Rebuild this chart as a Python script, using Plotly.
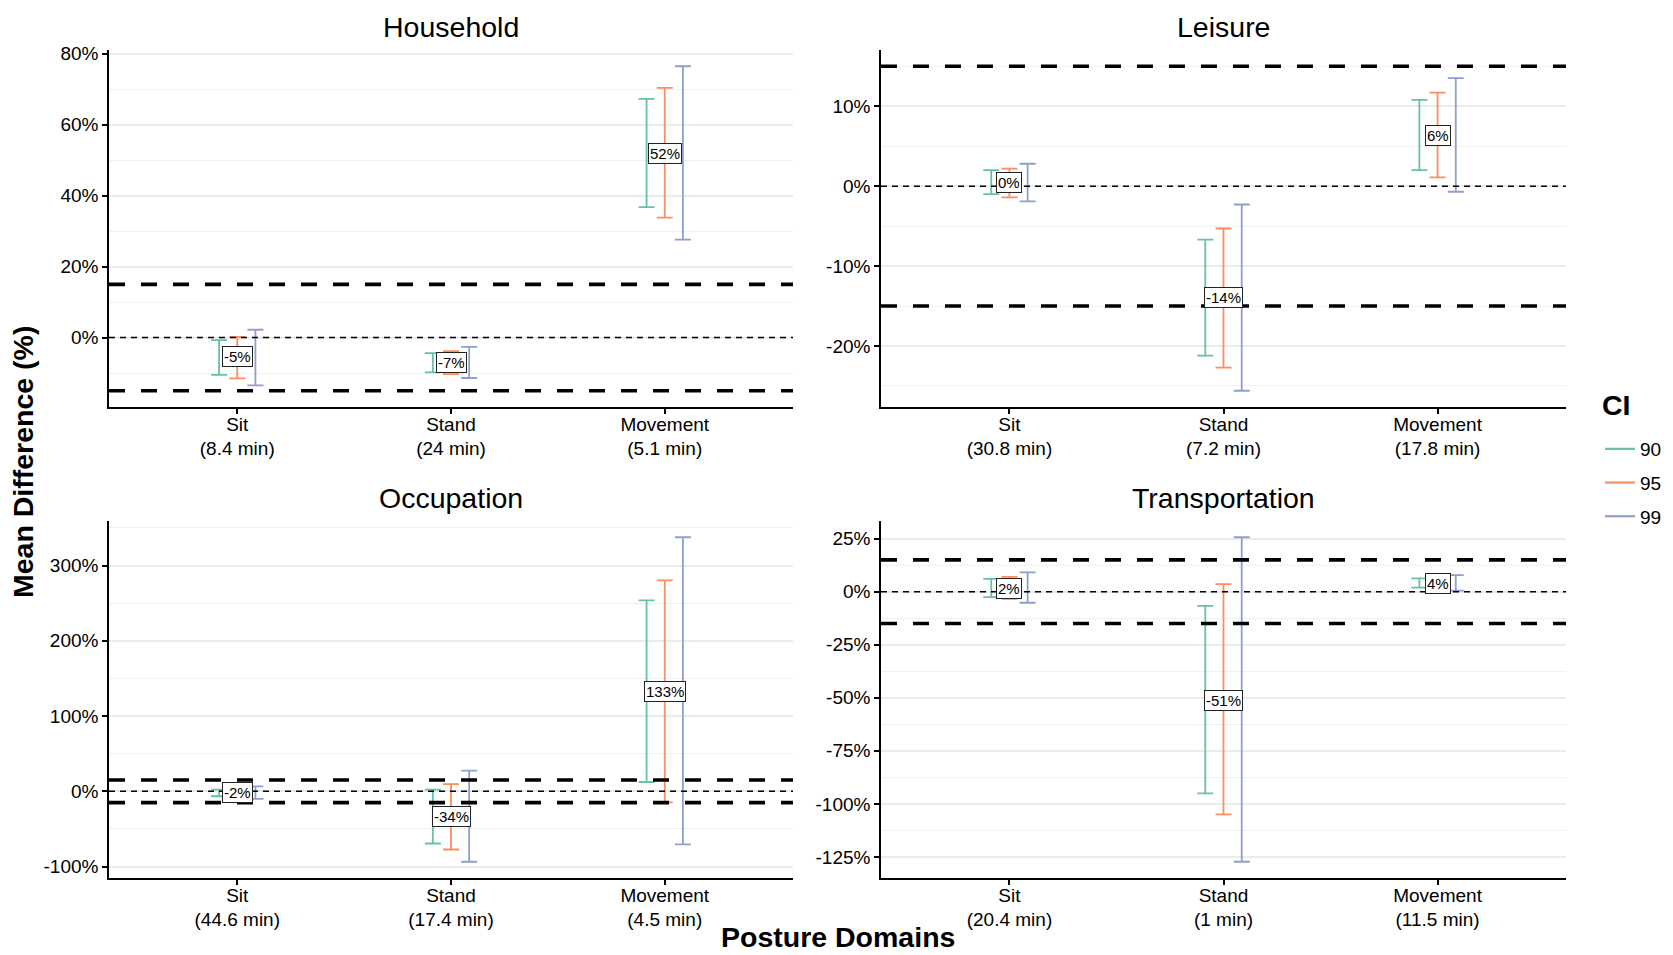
import plotly.graph_objects as go

FIG_W, FIG_H = 1673, 955

categories = ["Sit", "Stand", "Movement"]
ci_levels = ["90", "95", "99"]
ci_colors = ["#66C2A5", "#FC8D62", "#8DA0CB"]
equivalence_bounds = [-15, 15]
reference_line = [0]

panel_titles = ["Household", "Leisure", "Occupation", "Transportation"]

household_minutes = ["8.4", "24", "5.1"]
household_mean = [-5.4, -7.0, 52.0]
household_lower_90 = [-10.5, -9.8, 36.8]
household_upper_90 = [-0.7, -4.4, 67.3]
household_lower_95 = [-11.5, -10.3, 33.8]
household_upper_95 = [0.2, -3.8, 70.4]
household_lower_99 = [-13.5, -11.4, 27.6]
household_upper_99 = [2.2, -2.6, 76.5]
household_yticks = [0, 20, 40, 60, 80]

leisure_minutes = ["30.8", "7.2", "17.8"]
leisure_mean = [0.4, -13.9, 6.3]
leisure_lower_90 = [-1.0, -21.2, 2.0]
leisure_upper_90 = [2.0, -6.7, 10.8]
leisure_lower_95 = [-1.4, -22.7, 1.1]
leisure_upper_95 = [2.2, -5.3, 11.7]
leisure_lower_99 = [-1.9, -25.6, -0.7]
leisure_upper_99 = [2.8, -2.3, 13.5]
leisure_yticks = [-20, -10, 0, 10]

occupation_minutes = ["44.6", "17.4", "4.5"]
occupation_mean = [-2.0, -34.0, 133.0]
occupation_lower_90 = [-6.5, -69.3, 12.4]
occupation_upper_90 = [2.2, 2.2, 253.9]
occupation_lower_95 = [-8.0, -77.3, -14.6]
occupation_upper_95 = [4.0, 9.7, 280.4]
occupation_lower_99 = [-10.0, -93.6, -70.6]
occupation_upper_99 = [6.6, 27.4, 337.7]
occupation_yticks = [-100, 0, 100, 200, 300]

transportation_minutes = ["20.4", "1", "11.5"]
transportation_mean = [1.7, -51.3, 4.1]
transportation_lower_90 = [-2.5, -95.1, 1.9]
transportation_upper_90 = [6.1, -6.7, 6.3]
transportation_lower_95 = [-3.4, -105.0, 1.2]
transportation_upper_95 = [7.0, 3.6, 7.0]
transportation_lower_99 = [-5.2, -127.3, 0.5]
transportation_upper_99 = [9.1, 25.7, 7.8]
transportation_yticks = [-125, -100, -75, -50, -25, 0, 25]

panels = [
    dict(title=panel_titles[0], minutes=household_minutes, mean=household_mean,
         lower=[household_lower_90, household_lower_95, household_lower_99],
         upper=[household_upper_90, household_upper_95, household_upper_99],
         yticks=household_yticks),
    dict(title=panel_titles[1], minutes=leisure_minutes, mean=leisure_mean,
         lower=[leisure_lower_90, leisure_lower_95, leisure_lower_99],
         upper=[leisure_upper_90, leisure_upper_95, leisure_upper_99],
         yticks=leisure_yticks),
    dict(title=panel_titles[2], minutes=occupation_minutes, mean=occupation_mean,
         lower=[occupation_lower_90, occupation_lower_95, occupation_lower_99],
         upper=[occupation_upper_90, occupation_upper_95, occupation_upper_99],
         yticks=occupation_yticks),
    dict(title=panel_titles[3], minutes=transportation_minutes, mean=transportation_mean,
         lower=[transportation_lower_90, transportation_lower_95, transportation_lower_99],
         upper=[transportation_upper_90, transportation_upper_95, transportation_upper_99],
         yticks=transportation_yticks),
]

# panel rectangles in pixels: left, right, top, bottom
panel_px = [(109, 793, 50, 407), (881, 1566, 50, 407),
            (109, 793, 521, 878), (881, 1566, 521, 878)]
dodge = [-0.085, 0.0, 0.085]
FONT = "Liberation Sans, Arial, sans-serif"
TITLE_SIZE = 28.5

fig = go.Figure()
annotations = []
shapes = []
layout_axes = {}

for i, p in enumerate(panels):
    sfx = "" if i == 0 else str(i + 1)
    xa, ya = "x" + sfx, "y" + sfx
    l, r, t, b = panel_px[i]
    xdom = [l / FIG_W, r / FIG_W]
    ydom = [1 - b / FIG_H, 1 - t / FIG_H]

    xpos = list(range(1, len(categories) + 1))
    for j, lvl in enumerate(ci_levels):
        lo, up = p["lower"][j], p["upper"][j]
        fig.add_trace(go.Scatter(
            x=[x + dodge[j] for x in xpos], y=p["mean"], xaxis=xa, yaxis=ya,
            mode="markers", marker=dict(size=1, opacity=0),
            error_y=dict(type="data", symmetric=False,
                         array=[u - m for u, m in zip(up, p["mean"])],
                         arrayminus=[m - lw for m, lw in zip(p["mean"], lo)],
                         color=ci_colors[j], thickness=1.8, width=8),
            showlegend=False, hoverinfo="skip"))

    all_lo = min(min(v) for v in p["lower"])
    all_up = max(max(v) for v in p["upper"])
    lo_r = min(all_lo, min(equivalence_bounds))
    hi_r = max(all_up, max(equivalence_bounds))
    pad = 0.05 * (hi_r - lo_r)
    yrange = [lo_r - pad, hi_r + pad]
    step = p["yticks"][1] - p["yticks"][0]

    layout_axes["xaxis" + sfx] = dict(
        domain=xdom, anchor=ya, range=[0.4, 3.6], tickmode="array",
        tickvals=xpos,
        ticktext=[f"{c}<br>({m} min)" for c, m in zip(categories, p["minutes"])],
        showline=True, linecolor="black", linewidth=1.5, ticks="outside",
        ticklen=5, tickwidth=1.5, tickcolor="black", showgrid=False,
        zeroline=False, tickfont=dict(size=19, color="black", family=FONT),
        ticklabelstandoff=-6,
        automargin=False, fixedrange=True)
    layout_axes["yaxis" + sfx] = dict(
        domain=ydom, anchor=xa, range=yrange, tickmode="array",
        tickvals=p["yticks"], ticktext=[f"{v}%" for v in p["yticks"]],
        showline=True, linecolor="black", linewidth=1.5, ticks="outside",
        ticklen=5, tickwidth=1.5, tickcolor="black", showgrid=True,
        gridcolor="#EBEBEB", gridwidth=1.6, zeroline=False,
        minor=dict(showgrid=True, gridcolor="#F0F0F0", gridwidth=1,
                   tick0=p["yticks"][0] + step / 2, dtick=step),
        tickfont=dict(size=19, color="black", family=FONT),
        automargin=False, fixedrange=True)

    for bnd in equivalence_bounds:
        shapes.append(dict(type="line", xref=xa + " domain", yref=ya,
                           x0=0, x1=1, y0=bnd, y1=bnd, layer="above",
                           line=dict(color="black", width=3.6, dash="16px,16px")))
    for rl in reference_line:
        shapes.append(dict(type="line", xref=xa + " domain", yref=ya,
                           x0=0, x1=1, y0=rl, y1=rl, layer="above",
                           line=dict(color="black", width=1.5, dash="6px,5px")))

    for k, m in enumerate(p["mean"]):
        annotations.append(dict(
            x=xpos[k], y=m, xref=xa, yref=ya, text=f"{round(m)}%",
            showarrow=False, bgcolor="white", bordercolor="#222",
            borderwidth=1, borderpad=1, xanchor="center", yanchor="middle",
            font=dict(size=15, color="black", family=FONT)))

    annotations.append(dict(
        x=(xdom[0] + xdom[1]) / 2, y=1 - (t - 23) / FIG_H, xref="paper",
        yref="paper", text=p["title"], showarrow=False,
        xanchor="center", yanchor="middle",
        font=dict(size=TITLE_SIZE, color="black", family=FONT)))

annotations.append(dict(
    x=23 / FIG_W, y=1 - 462 / FIG_H, xref="paper", yref="paper",
    text="<b>Mean Difference (%)</b>", textangle=-90, showarrow=False,
    xanchor="center", yanchor="middle",
    font=dict(size=TITLE_SIZE, color="black", family=FONT)))
annotations.append(dict(
    x=838 / FIG_W, y=1 - 937 / FIG_H, xref="paper", yref="paper",
    text="<b>Posture Domains</b>", showarrow=False,
    xanchor="center", yanchor="middle",
    font=dict(size=TITLE_SIZE, color="black", family=FONT)))
annotations.append(dict(
    x=1600 / FIG_W, y=1 - 405 / FIG_H, xref="paper", yref="paper",
    text="<b>CI</b>", showarrow=False, xanchor="left", yanchor="middle",
    font=dict(size=TITLE_SIZE, color="black", family=FONT)))

for j, lvl in enumerate(ci_levels):
    fig.add_trace(go.Scatter(
        x=[None], y=[None], mode="lines", name=lvl, legendgroup=lvl,
        line=dict(color=ci_colors[j], width=2.2), hoverinfo="skip"))

fig.update_layout(
    width=FIG_W, height=FIG_H, margin=dict(l=0, r=0, t=0, b=0),
    paper_bgcolor="white", plot_bgcolor="white",
    font=dict(family=FONT, color="black"),
    annotations=annotations, shapes=shapes,
    showlegend=True,
    legend=dict(x=1600 / FIG_W, y=1 - 430 / FIG_H, xanchor="left", yanchor="top",
                font=dict(size=19, color="black", family=FONT),
                tracegroupgap=6, bgcolor="rgba(0,0,0,0)"),
    **layout_axes,
)

fig.write_html("out.html")
